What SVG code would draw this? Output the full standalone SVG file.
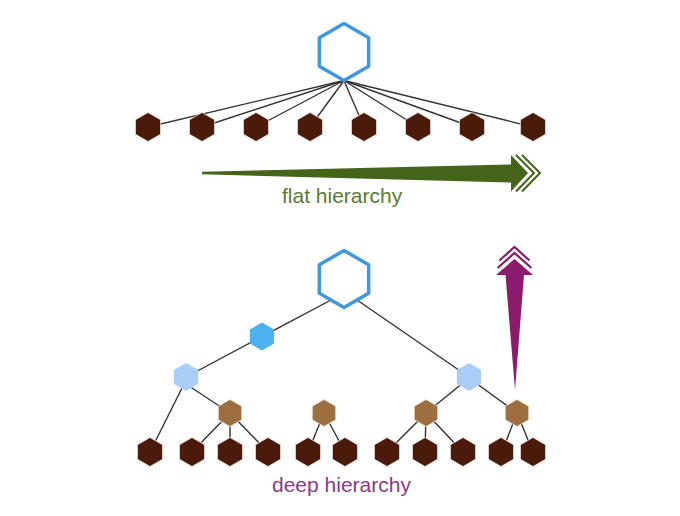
<svg xmlns="http://www.w3.org/2000/svg" xmlns:xlink="http://www.w3.org/1999/xlink" width="680" height="516" viewBox="0 0 680 516">
<style>
.edge{stroke:#333;stroke-width:1.4;fill:none;stroke-linecap:round}
.root{fill:#fff;stroke:#3f98dd;stroke-width:3.5;stroke-linejoin:round}
.leaf{fill:#4a1b0a;stroke:#f3e6de;stroke-width:0.8}
.mid{fill:#9c6e40;stroke:#efe2d2;stroke-width:0.8}
.blue{fill:#4cb1ee}
.lblue{fill:#a9cdf6}
.lbl{font-family:"Liberation Sans",Arial,sans-serif;font-size:21px}
</style>
<defs>
<path id="hexL" d="M0,-28.5 L24.68,-14.25 L24.68,14.25 L0,28.5 L-24.68,14.25 L-24.68,-14.25 Z"/>
<path id="hexS" d="M0,-14.5 L12.56,-7.25 L12.56,7.25 L0,14.5 L-12.56,7.25 L-12.56,-7.25 Z"/>
<path id="hexM" d="M0,-14 L12.12,-7 L12.12,7 L0,14 L-12.12,7 L-12.12,-7 Z"/>
<path id="hexB" d="M0,-13.5 L11.69,-6.75 L11.69,6.75 L0,13.5 L-11.69,6.75 L-11.69,-6.75 Z"/>
</defs>
<rect width="680" height="516" fill="#fff"/>

<g id="connectors">
<line class="edge" x1="344" y1="80.5" x2="148" y2="127"/>
<line class="edge" x1="344" y1="80.5" x2="202" y2="127"/>
<line class="edge" x1="344" y1="80.5" x2="256" y2="127"/>
<line class="edge" x1="344" y1="80.5" x2="310" y2="127"/>
<line class="edge" x1="344" y1="80.5" x2="364" y2="127"/>
<line class="edge" x1="344" y1="80.5" x2="418" y2="127"/>
<line class="edge" x1="344" y1="80.5" x2="472" y2="127"/>
<line class="edge" x1="344" y1="80.5" x2="533" y2="127"/>

<line class="edge" x1="331" y1="300" x2="186" y2="377"/>
<line class="edge" x1="357" y1="300" x2="469" y2="377"/>
<line class="edge" x1="182" y1="388" x2="150" y2="452"/>
<line class="edge" x1="192" y1="388" x2="230" y2="413"/>
<line class="edge" x1="230" y1="413" x2="192" y2="452"/>
<line class="edge" x1="230" y1="413" x2="230" y2="452"/>
<line class="edge" x1="230" y1="413" x2="268" y2="452"/>
<line class="edge" x1="324" y1="413" x2="308" y2="452"/>
<line class="edge" x1="324" y1="413" x2="345" y2="452"/>
<line class="edge" x1="469" y1="378" x2="426" y2="413"/>
<line class="edge" x1="469" y1="378" x2="517" y2="413"/>
<line class="edge" x1="426" y1="413" x2="387" y2="452"/>
<line class="edge" x1="426" y1="413" x2="425" y2="452"/>
<line class="edge" x1="426" y1="413" x2="463" y2="452"/>
<line class="edge" x1="517" y1="413" x2="502" y2="452"/>
<line class="edge" x1="517" y1="413" x2="533" y2="452"/>
</g>

<g id="flat-root"><use xlink:href="#hexL" class="root" x="344" y="52"/></g>
<g id="flat-leaves">
<use xlink:href="#hexS" class="leaf" x="148" y="127"/>
<use xlink:href="#hexS" class="leaf" x="202" y="127"/>
<use xlink:href="#hexS" class="leaf" x="256" y="127"/>
<use xlink:href="#hexS" class="leaf" x="310" y="127"/>
<use xlink:href="#hexS" class="leaf" x="364" y="127"/>
<use xlink:href="#hexS" class="leaf" x="418" y="127"/>
<use xlink:href="#hexS" class="leaf" x="472" y="127"/>
<use xlink:href="#hexS" class="leaf" x="533" y="127"/>
</g>

<g id="flat-arrow" fill="#44641a">
<polygon points="202,171.8 511,164.5 511,155 528,173 511,191.5 511,182.5 202,174.3"/>
<polyline points="516,155 534,173 516,191.5" fill="none" stroke="#44641a" stroke-width="2"/>
<polyline points="522,155 540,173 522,191.5" fill="none" stroke="#44641a" stroke-width="2"/>
</g>
<text class="lbl" x="282" y="203" fill="#5b7a32">flat hierarchy</text>

<g id="deep-root"><use xlink:href="#hexL" class="root" x="344" y="279"/></g>
<g id="deep-l1"><use xlink:href="#hexM" class="blue" x="262" y="336.5"/></g>
<g id="deep-l2">
<use xlink:href="#hexM" class="lblue" x="186" y="377"/>
<use xlink:href="#hexM" class="lblue" x="469" y="377"/>
</g>
<g id="deep-l3">
<use xlink:href="#hexB" class="mid" x="230" y="413"/>
<use xlink:href="#hexB" class="mid" x="324" y="413"/>
<use xlink:href="#hexB" class="mid" x="426" y="413"/>
<use xlink:href="#hexB" class="mid" x="517" y="413"/>
</g>
<g id="deep-leaves">
<use xlink:href="#hexS" class="leaf" x="150" y="452"/>
<use xlink:href="#hexS" class="leaf" x="192" y="452"/>
<use xlink:href="#hexS" class="leaf" x="230" y="452"/>
<use xlink:href="#hexS" class="leaf" x="268" y="452"/>
<use xlink:href="#hexS" class="leaf" x="308" y="452"/>
<use xlink:href="#hexS" class="leaf" x="345" y="452"/>
<use xlink:href="#hexS" class="leaf" x="387" y="452"/>
<use xlink:href="#hexS" class="leaf" x="425" y="452"/>
<use xlink:href="#hexS" class="leaf" x="463" y="452"/>
<use xlink:href="#hexS" class="leaf" x="501" y="452"/>
<use xlink:href="#hexS" class="leaf" x="533" y="452"/>
</g>

<g id="deep-arrow" fill="#8b1b6d">
<polygon points="505.5,275 524,275 515,390"/>
<polygon points="496,275 514.5,259 533,275"/>
<polyline points="497.5,268 514.5,253 531.5,268" fill="none" stroke="#8b1b6d" stroke-width="2.2"/>
<polyline points="499.5,260.5 514.5,247 529.5,260.5" fill="none" stroke="#8b1b6d" stroke-width="2.2"/>
</g>
<text class="lbl" x="272" y="492" fill="#8a3a8c">deep hierarchy</text>
</svg>
